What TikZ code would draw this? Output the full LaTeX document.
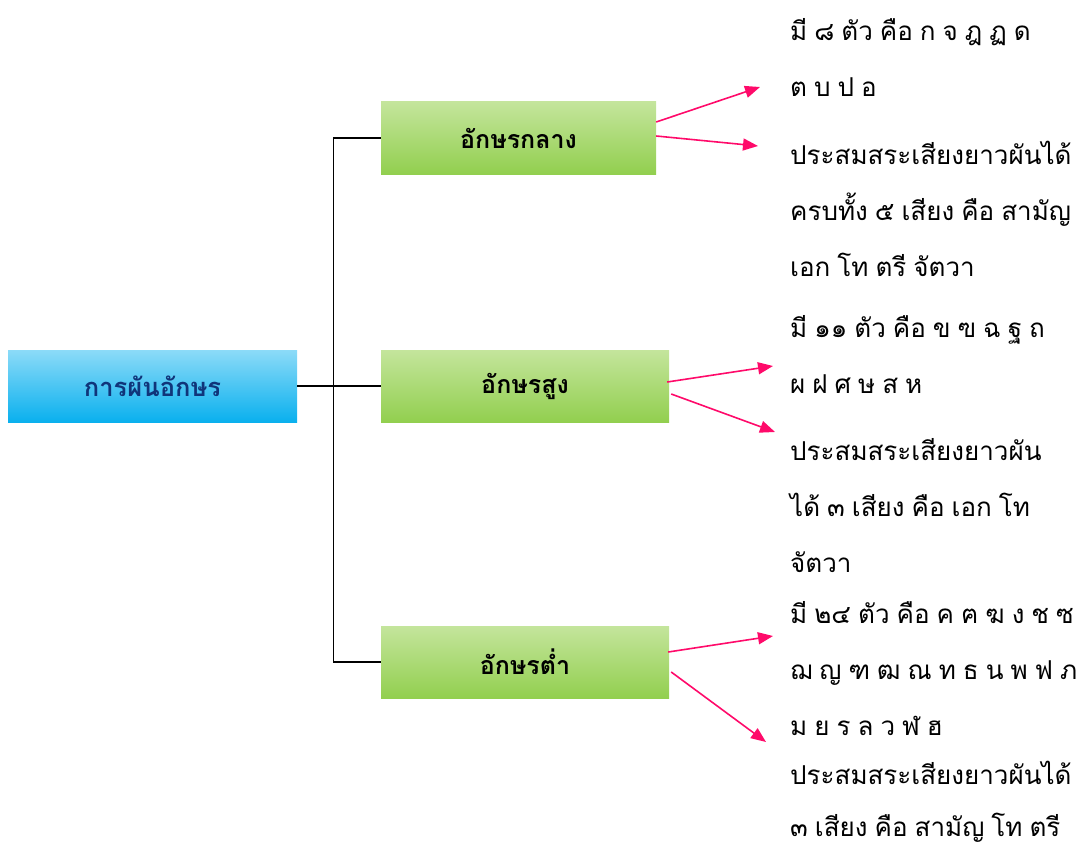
\documentclass[tikz,border=0pt]{standalone}
\usepackage{fontspec}
\newfontfamily\thaifont[Script=Thai,WordSpace=0.8]{Loma}
\usetikzlibrary{positioning,arrows.meta}
\definecolor{skytop}{HTML}{8CDBF8}
\definecolor{skybot}{HTML}{0AB0EE}
\definecolor{leaftop}{HTML}{C4E59C}
\definecolor{leafbot}{HTML}{92CF4F}
\definecolor{rootblue}{HTML}{10357A}
\definecolor{arrowpink}{HTML}{FF0A6A}
\tikzset{
  rootbox/.style={minimum width=289pt, minimum height=72pt, inner sep=0pt,
    top color=skytop, bottom color=skybot, text=rootblue,
    font=\thaifont\bfseries\fontsize{25.5}{28}\selectfont},
  groupbox/.style={minimum height=72pt, inner sep=0pt,
    top color=leaftop, bottom color=leafbot,
    font=\thaifont\bfseries\fontsize{25}{28}\selectfont},
  notetext/.style={align=left, anchor=base west, inner sep=0pt,
    font=\thaifont\fontsize{26}{56}\selectfont},
  pinkarrow/.style={draw=arrowpink, line width=1.6pt,
    -{Triangle[length=15pt,width=12pt]}},
}
\begin{document}
\begin{tikzpicture}[x=1pt,y=-1pt]
  \useasboundingbox (0,0) rectangle (1081,848);
  % boxes
  \node [rootbox] (root) at (152.5,386) {การผันอักษร};
  \node [groupbox,minimum width=275pt] (mid) at (518.5,138) {อักษรกลาง};
  \node [groupbox,minimum width=288pt] (high) at (525,386) {อักษรสูง};
  \node [groupbox,minimum width=288pt] (low) at (525,662) {อักษรต่ำ};

  % tree lines
  \draw [line width=1.2pt] (root.east) -- (high.west);
  \draw [line width=1.2pt] (mid.west) -- ++(-47,0) |- (low.west);

  % notes (placed by the baseline of their last line)
  \node [notetext] (midA) at (790,97) {มี ๘ ตัว คือ ก จ ฎ ฏ ด\\ต บ ป อ};
  \node [notetext] (midB) at (790,276) {ประสมสระเสียงยาวผันได้\\ครบทั้ง ๕ เสียง คือ สามัญ\\เอก โท ตรี จัตวา};
  \node [notetext] (highA) at (790,393) {มี ๑๑ ตัว คือ ข ฃ ฉ ฐ ถ\\ผ ฝ ศ ษ ส ห};
  \node [notetext] (highB) at (790,572) {ประสมสระเสียงยาวผัน\\ได้ ๓ เสียง คือ เอก โท\\จัตวา};
  \node [notetext] (lowA) at (790,735) {มี ๒๔ ตัว คือ ค ฅ ฆ ง ช ซ\\ฌ ญ ฑ ฒ ณ ท ธ น พ ฟ ภ\\ม ย ร ล ว ฬ ฮ};
  \node [notetext,font=\thaifont\fontsize{26}{52}\selectfont] (lowB) at (790,836) {ประสมสระเสียงยาวผันได้\\๓ เสียง คือ สามัญ โท ตรี};

  % arrow tips
  \coordinate (tipMidA) at (760,87);
  \coordinate (tipMidB) at (758,146);
  \coordinate (tipHighA) at (773,366);
  \coordinate (tipHighB) at (775,432);
  \coordinate (tipLowA) at (773,636);
  \coordinate (tipLowB) at (766,742);

  \draw [pinkarrow] ([yshift=16pt]mid.east) -- (tipMidA);
  \draw [pinkarrow] ([yshift=2pt]mid.east) -- (tipMidB);
  \draw [pinkarrow] ([yshift=4pt,xshift=-2pt]high.east) -- (tipHighA);
  \draw [pinkarrow] ([yshift=-8pt,xshift=2pt]high.east) -- (tipHighB);
  \draw [pinkarrow] ([yshift=10pt,xshift=-1pt]low.east) -- (tipLowA);
  \draw [pinkarrow] ([yshift=-10pt,xshift=2pt]low.east) -- (tipLowB);
\end{tikzpicture}
\end{document}
